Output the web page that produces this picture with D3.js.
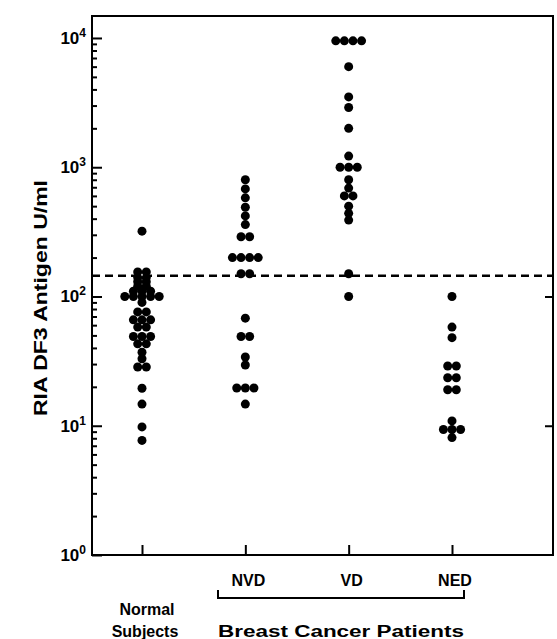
<!DOCTYPE html>
<html lang="en">

<head>
    <meta charset="UTF-8">
    <title>RIA DF3 Antigen</title>
    <script src="https://d3js.org/d3.v7.min.js"></script>
    <style>
        * {
            margin: 0;
            padding: 0;
        }

        body {
            background: #fff;
        }

        text {
            font-family: "Liberation Sans", Arial, Helvetica, sans-serif;
            fill: #000;
        }

        .tick line {
            stroke: #000;
            stroke-width: 2px;
        }
    </style>
</head>

<body>
    <script>
        // values, one entry per dot
        var groups = ["Normal", "NVD", "VD", "NED"];
        var normalValues = [320, 155, 155, 140, 140, 130, 130, 120, 120, 110, 110, 110,
            100, 100, 100, 100, 100, 90, 76, 76, 66, 66, 66, 58, 58, 49, 49, 49,
            43, 43, 37, 33, 28.5, 28.5, 19.5, 14.7, 9.8, 7.7];
        var nvdValues = [800, 680, 580, 490, 420, 360, 290, 290, 200, 200, 200, 200, 150, 150,
            68, 49, 49, 34, 29.5, 19.6, 19.6, 19.6, 14.7];
        var vdValues = [9500, 9500, 9500, 9500, 6000, 3500, 2900, 2000, 1220,
            1000, 1000, 1000, 800, 690, 600, 600, 500, 440, 390, 150, 100];
        var nedValues = [100, 58, 48, 29, 29, 23.5, 23.5, 19, 19, 10.9, 9.35, 9.35, 9.35, 8.1];
        var cutoff = 145;
        var yTicks = [1, 10, 100, 1000, 10000];
        var rightTicks = [10, 100];
        var groupLabels = ["NVD", "VD", "NED"];

        (function () {
            var width = 557, height = 639;
            var pl = 92, pr = 553, pt = 16, pb = 555;

            var svg = d3.select("body").append("svg")
                .attr("width", width)
                .attr("height", height);

            var x = d3.scalePoint()
                .domain(groups)
                .range([142, 452]);

            var y = d3.scaleLog()
                .domain([1, Math.pow(10, 4.17)])
                .range([pb, pt]);

            // minor ticks 2..9 in each decade
            var minor = [];
            for (var e = 0; e < 4; e++) {
                for (var m = 2; m < 10; m++) {
                    minor.push(m * Math.pow(10, e));
                }
            }

            // left axis ticks (pointing in)
            svg.append("g")
                .attr("transform", "translate(" + pl + ",0)")
                .call(d3.axisRight(y).tickValues(minor).tickSize(5).tickFormat(""))
                .call(function (g) { g.select(".domain").remove(); });
            svg.append("g")
                .attr("transform", "translate(" + pl + ",0)")
                .call(d3.axisRight(y).tickValues(yTicks).tickSize(10).tickFormat(""))
                .call(function (g) { g.select(".domain").remove(); });

            // right border ticks
            svg.append("g")
                .attr("transform", "translate(" + pr + ",0)")
                .call(d3.axisLeft(y).tickValues(rightTicks).tickSize(8).tickFormat(""))
                .call(function (g) { g.select(".domain").remove(); });

            // bottom ticks
            svg.append("g")
                .attr("transform", "translate(0," + pb + ")")
                .call(d3.axisTop(x).tickSize(10).tickFormat(""))
                .call(function (g) { g.select(".domain").remove(); });

            // frame
            svg.append("rect")
                .attr("x", pl)
                .attr("y", pt)
                .attr("width", pr - pl)
                .attr("height", pb - pt)
                .attr("fill", "none")
                .attr("stroke", "#000")
                .attr("stroke-width", 2);

            // tick labels 10^n
            var lab = svg.append("g").selectAll("text")
                .data(yTicks)
                .enter()
                .append("text")
                .attr("x", 86)
                .attr("y", function (d) { return y(d) + 6; })
                .attr("text-anchor", "end")
                .attr("font-size", "17px")
                .attr("font-weight", "bold");
            lab.append("tspan").text("10");
            lab.append("tspan")
                .attr("font-size", "12px")
                .attr("dy", -7)
                .text(function (d) { return Math.round(Math.log10(d)); });

            // y title
            svg.append("text")
                .attr("transform", "translate(47,298) rotate(-90)")
                .attr("text-anchor", "middle")
                .attr("font-size", "18px")
                .attr("font-weight", "bold")
                .attr("textLength", 236)
                .attr("lengthAdjust", "spacingAndGlyphs")
                .text("RIA DF3 Antigen U/ml");

            // cutoff line
            svg.append("line")
                .attr("x1", pl)
                .attr("x2", pr)
                .attr("y1", y(cutoff))
                .attr("y2", y(cutoff))
                .attr("stroke", "#000")
                .attr("stroke-width", 2.5)
                .attr("stroke-dasharray", "8,5");

            // dots: equal values laid side by side, centred on the group
            var series = [normalValues, nvdValues, vdValues, nedValues];
            var dots = [];
            series.forEach(function (vals, gi) {
                var rows = d3.group(vals, function (v) { return v; });
                rows.forEach(function (row, v) {
                    row.forEach(function (d, k) {
                        dots.push({ g: groups[gi], v: v, off: (k - (row.length - 1) / 2) * 8.6 });
                    });
                });
            });

            svg.append("g").selectAll("circle")
                .data(dots)
                .enter()
                .append("circle")
                .attr("cx", function (d) { return x(d.g) + d.off; })
                .attr("cy", function (d) { return y(d.v); })
                .attr("r", 4.5)
                .attr("fill", "#000");

            // category labels
            svg.append("g").selectAll("text")
                .data(groupLabels)
                .enter()
                .append("text")
                .attr("x", function (d) { return x(d) + 3; })
                .attr("y", 586)
                .attr("text-anchor", "middle")
                .attr("font-size", "16px")
                .attr("font-weight", "bold")
                .text(function (d) { return d; });

            svg.append("text")
                .attr("x", x("Normal") + 5)
                .attr("y", 615)
                .attr("text-anchor", "middle")
                .attr("font-size", "16px")
                .attr("font-weight", "bold")
                .text("Normal");
            svg.append("text")
                .attr("x", x("Normal") + 3)
                .attr("y", 637)
                .attr("text-anchor", "middle")
                .attr("font-size", "16px")
                .attr("font-weight", "bold")
                .text("Subjects");

            // bracket under the patient groups
            var bx1 = 218, bx2 = 464, by = 598;
            svg.append("path")
                .attr("d", "M" + bx1 + "," + (by - 8) + "V" + by + "H" + bx2 + "V" + (by - 8))
                .attr("fill", "none")
                .attr("stroke", "#000")
                .attr("stroke-width", 2);

            svg.append("text")
                .attr("x", (bx1 + bx2) / 2)
                .attr("y", 637)
                .attr("text-anchor", "middle")
                .attr("font-size", "16px")
                .attr("font-weight", "bold")
                .attr("textLength", 246)
                .attr("lengthAdjust", "spacingAndGlyphs")
                .text("Breast Cancer Patients");
        })();
    </script>
</body>

</html>
